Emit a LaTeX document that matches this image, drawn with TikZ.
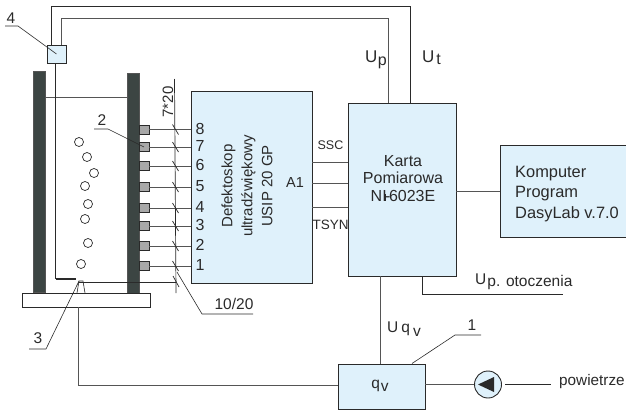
\documentclass[tikz,border=0pt]{standalone}
\usepackage{fontspec}
\setmainfont{Liberation Sans}
\usetikzlibrary{calc}
\definecolor{boxblue}{HTML}{DFF1FB}
\definecolor{wall}{HTML}{3C4543}
\definecolor{ink}{HTML}{2A2A2A}
\definecolor{wire}{HTML}{555555}
\definecolor{sens}{HTML}{A8A8A8}
\tikzset{
  panel/.style={draw=ink,fill=boxblue,line width=0.9pt,inner sep=0pt,align=center,text=ink},
  wallbar/.style={draw=wire,fill=wall,line width=0.6pt,inner sep=0pt,minimum width=12pt},
  sensorbox/.style={draw=ink,fill=sens,line width=0.8pt,inner sep=0pt,minimum width=10pt,minimum height=9pt},
  wireline/.style={draw=wire,line width=0.9pt},
  thinline/.style={draw=ink,line width=0.6pt},
  lbl/.style={text=ink,inner sep=0pt,font=\fontsize{15.5}{18}\selectfont},
  smalllbl/.style={text=ink,inner sep=0pt,font=\fontsize{12.5}{14}\selectfont},
  bubble/.style={circle,draw=ink,line width=0.7pt,fill=white,inner sep=0pt,minimum width=9pt,minimum height=7.5pt},
}
\begin{document}
\begin{tikzpicture}[x=1pt,y=-1pt]
\useasboundingbox (0,0) rectangle (626,412);
% column
\node[wallbar,minimum height=221pt] (lw) at (39,181.5) {};
\node[wallbar,minimum height=221pt] (rw) at (133,183.5) {};
\node[draw=ink,fill=white,line width=0.8pt,inner sep=0pt,minimum width=128pt,minimum height=14pt] (base) at (86,300) {};
\draw[wireline] (lw.east |- 0,97) coordinate (ta) -- (rw.west |- 0,97) coordinate (tb);
% sensor 4
\node[draw=ink,fill=boxblue,line width=0.8pt,inner sep=0pt,minimum width=19pt,minimum height=18pt] (s4) at (56.5,54) {};
% main boxes
\node[panel,minimum width=121pt,minimum height=192pt] (def) at (251.5,187) {};
\node[text=ink,inner sep=0pt,align=center,rotate=90,font=\fontsize{15}{20}\selectfont] (deftxt) at (247,186) {Defektoskop\\ultradźwiękowy\\USIP 20 GP};
\node[panel,minimum width=108pt,minimum height=173pt] (kart) at (402,189.5) {};
\node[text=ink,inner sep=0pt,align=center,font=\fontsize{16}{17.5}\selectfont] (karttxt) at (403,178.5) {Karta\\Pomiarowa\\NI\kern-1.5pt-\kern-1.5pt6023E};
\coordinate (nibara) at (385,194);
\coordinate (nibarb) at (385,201);
\draw[draw=ink,line width=1.2pt] (nibara) -- (nibarb);
\node[panel,minimum width=127pt,minimum height=92pt] (komp) at (563.5,191) {};
\node[text=ink,inner sep=0pt,align=left,anchor=west,font=\fontsize{16.4}{20.5}\selectfont] (komptxt) at (515,194) {Komputer\\Program\\DasyLab v.7.0};
\node[panel,minimum width=87pt,minimum height=45pt] (qv) at (381.5,386.5) {};
\node[lbl] (qvt) at (380,386) {q\raisebox{-3pt}{\kern1pt v}};
% wires to karta
\coordinate (c1) at (51.5,6);
\coordinate (c2) at (410.5,6);
\coordinate (c3) at (61,18);
\coordinate (c4) at (388,18);
\draw[draw=ink,line width=0.9pt] (s4.north -| c1) -- (c1) -- (c2) -- (c2 |- kart.north);
\draw[wireline] (s4.north -| c3) -- (c3) -- (c4) -- (c4 |- kart.north);
% tube
\coordinate (t1) at (55.5,279);
\coordinate (t2) at (76,279);
\draw[draw=ink,line width=0.7pt] (s4.south -| t1) -- (t1);
\draw[draw=ink,line width=1.6pt] (t1) -- (t2);
% nozzle
\coordinate (noza) at (77,293);
\coordinate (nozb) at (85,293);
\coordinate (nozc) at (83,281);
\coordinate (nozd) at (79,281);
\draw[thinline] (noza) -- (nozd) -- (nozc) -- (nozb);
% bubbles
\foreach \i/\x/\y in {1/79/142,2/87/157,3/94/173,4/85/186,5/88/204,6/85/219,7/88/243,8/81/264}
  \node[bubble] (b\i) at (\x,\y) {};
% bus
\coordinate (bt) at (174.5,79);
\coordinate (bb) at (176,293);
\draw[draw=ink,line width=0.7pt] (bt) -- (bb);
\node[text=ink,inner sep=0pt,rotate=90,font=\fontsize{15}{17}\selectfont] (seven) at (168,102) {7*20};
% sensors
\foreach \n/\y in {8/129.5,7/147,6/166,5/187,4/208,3/226,2/246,1/266}{
  \node[sensorbox] (p\n) at (144,\y) {};
  \draw[wireline] (p\n.east) -- (p\n.east -| def.west);
  \draw[draw=ink,line width=0.7pt] ($(p\n.east -| bt)+(-2,-5)$) -- ($(p\n.east -| bt)+(4,5)$);
  \node[text=ink,inner sep=0pt,font=\fontsize{16}{18}\selectfont] (num\n) at (200,\y-1) {\n};
}
% line from nozzle
\coordinate (nl) at (78,282);
\draw[thinline] (nl) -- (nl -| bb);
\draw[draw=ink,line width=0.7pt] ($(nl -| bb)+(-3,-6)$) -- ($(nl -| bb)+(3,5)$);
% signals
\draw[wireline] (def.east |- 0,162) coordinate (sa) -- (kart.west |- sa);
\draw[wireline] (def.east |- 0,183) coordinate (sb) -- (kart.west |- sb);
\draw[wireline] (def.east |- 0,207) coordinate (sc) -- (kart.west |- sc);
\node[smalllbl] (ssc) at (330.5,145) {SSC};
\node[smalllbl,font=\fontsize{13.5}{15}\selectfont] (tsyn) at (330.5,225) {TSYN};
\node[text=ink,inner sep=0pt,font=\fontsize{14.5}{16}\selectfont] (a1) at (295,183) {A1};
\draw[wireline] (kart.east |- komp.west) -- (komp.west);
% lower wires
\coordinate (u1) at (380,300);
\draw[wireline] (kart.south -| u1) -- (qv.north -| u1);
\coordinate (o1) at (422,294);
\coordinate (o2) at (563,294);
\draw[thinline] (kart.south -| o1) -- (o1) -- (o2);
\coordinate (pp) at (78,385.5);
\draw[wireline] (base.south -| pp) -- (pp) -- (qv.west |- pp);
\node[circle,draw=ink,fill=boxblue,line width=0.9pt,inner sep=0pt,minimum size=27pt] (pump) at (488,384.5) {};
\coordinate (tipa) at (478,384.5);
\coordinate (tipb) at (494,377);
\coordinate (tipc) at (494,392);
\fill[ink] (tipa) -- (tipb) -- (tipc) -- cycle;
\draw[wireline] (qv.east |- pump.west) -- (pump.west);
\coordinate (airb) at (551,384);
\coordinate (aira) at (505,384);
\draw[thinline] (aira) -- (airb);
\node[lbl,anchor=west,font=\fontsize{15.3}{17}\selectfont] (pow) at (559,382) {powietrze};
% labels
\node[lbl,anchor=west,font=\fontsize{17}{19}\selectfont] (up) at (365,60) {U\raisebox{-3pt}{\kern0.5pt\fontsize{16}{18}\selectfont p}};
\node[lbl,anchor=west,font=\fontsize{17}{19}\selectfont] (ut) at (422,58) {U\kern2pt\raisebox{-2pt}{\fontsize{16}{18}\selectfont t}};
\node[lbl,anchor=west] (uo) at (475,282) {U\raisebox{-2pt}{\kern1pt p. otoczenia}};
\node[lbl,anchor=west,font=\fontsize{15.5}{18}\selectfont] (uq) at (387,329) {U\kern3pt q\kern3pt\raisebox{-4pt}{v}};
% leaders
\node[lbl] (l4) at (11,18) {4};
\draw[thinline] (5,26) coordinate (a4) -- (18,26) coordinate (b4) -- (s4.center);
\node[lbl] (l2) at (102,120) {2};
\draw[thinline] (94,129) coordinate (a2) -- (108,129) coordinate (b2) -- (p7.center);
\node[lbl] (l3) at (38,338) {3};
\draw[thinline] (29,349) coordinate (a3) -- (46,349) coordinate (b3) -- (nozd);
\node[lbl] (l1020) at (234,304) {10/20};
\draw[thinline] (253,314) coordinate (a10) -- (202,314) coordinate (b10) -- (177,272) coordinate (c10);
\node[lbl] (l1) at (472,325) {1};
\draw[thinline] (481,335) coordinate (a1c) -- (455,335) coordinate (b1c) -- (412,363.5) coordinate (c1c);
\end{tikzpicture}
\end{document}
